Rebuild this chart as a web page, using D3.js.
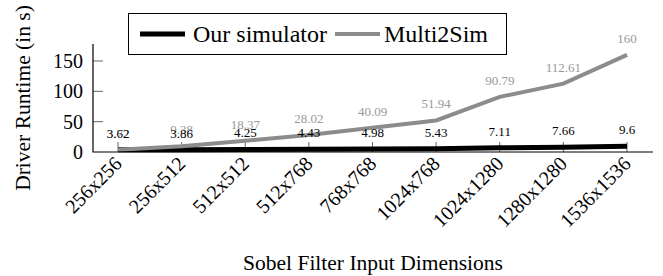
<!DOCTYPE html>
<html>
<head>
<meta charset="utf-8">
<script src="https://cdn.jsdelivr.net/npm/d3@7"></script>
<style>
  body { margin: 0; background: #fff; }
</style>
</head>
<body>
<script>
const categories = ['256x256', '256x512', '512x512', '512x768', '768x768',
  '1024x768', '1024x1280', '1280x1280', '1536x1536'];
const ourSim = [3.62, 3.86, 4.25, 4.43, 4.98, 5.43, 7.11, 7.66, 9.6];
const multi2Sim = [3.72, 9.38, 18.37, 28.02, 40.09, 51.94, 90.79, 112.61, 160];
const yTicks = [0, 50, 100, 150];

const FONT = "'Liberation Serif', 'DejaVu Serif', serif";

function main() {
  const width = 663;
  const height = 276;
  const left = 93, right = 653, top = 44, bottom = 152;

  const svg = d3.select('body').append('svg')
    .attr('width', width)
    .attr('height', height)
    .attr('font-family', FONT)
    .style('font-family', FONT);

  const x = d3.scalePoint()
    .domain(categories)
    .range([left + 25, right - 26]);

  const y = d3.scaleLinear()
    .domain([0, 178])
    .range([bottom, top]);

  // ticks (inward)
  svg.append('g')
    .selectAll('line')
    .data(categories)
    .enter()
    .append('line')
    .attr('x1', d => x(d)).attr('x2', d => x(d))
    .attr('y1', bottom).attr('y2', bottom - 10)
    .attr('stroke', '#666')
    .attr('stroke-width', 1);

  svg.append('g')
    .selectAll('line')
    .data(yTicks.filter(d => d > 0))
    .enter()
    .append('line')
    .attr('x1', left).attr('x2', left + 10)
    .attr('y1', d => y(d)).attr('y2', d => y(d))
    .attr('stroke', '#666')
    .attr('stroke-width', 1);

  const line = d3.line()
    .x((d, i) => x(categories[i]))
    .y(d => y(d));

  svg.append('path')
    .attr('d', line(ourSim))
    .attr('fill', 'none')
    .attr('stroke', '#000')
    .attr('stroke-width', 5);

  svg.append('path')
    .attr('d', line(multi2Sim))
    .attr('fill', 'none')
    .attr('stroke', '#8c8c8c')
    .attr('stroke-width', 4);

  // axis lines
  svg.append('path')
    .attr('d', `M${left},${top}V${bottom}H${right}`)
    .attr('fill', 'none')
    .attr('stroke', '#000')
    .attr('stroke-width', 1.2);

  // value labels
  svg.append('g')
    .selectAll('text')
    .data(multi2Sim)
    .enter()
    .append('text')
    .attr('x', (d, i) => x(categories[i]))
    .attr('y', d => y(d) - 12)
    .attr('text-anchor', 'middle')
    .attr('font-size', 13)
    .attr('fill', '#999')
    .text(d => d);

  svg.append('g')
    .selectAll('text')
    .data(ourSim)
    .enter()
    .append('text')
    .attr('x', (d, i) => x(categories[i]))
    .attr('y', d => y(d) - 12)
    .attr('text-anchor', 'middle')
    .attr('font-size', 13)
    .attr('fill', '#000')
    .text(d => d);

  // tick labels
  svg.append('g')
    .selectAll('text')
    .data(yTicks)
    .enter()
    .append('text')
    .attr('x', left - 10)
    .attr('y', d => y(d))
    .attr('dy', '0.35em')
    .attr('text-anchor', 'end')
    .attr('font-size', 20)
    .text(d => d);

  svg.append('g')
    .selectAll('text')
    .data(categories)
    .enter()
    .append('text')
    .attr('transform', d => `translate(${x(d)},${bottom + 8}) rotate(-45)`)
    .attr('dy', '0.35em')
    .attr('text-anchor', 'end')
    .attr('font-size', 20)
    .text(d => d);

  // axis titles
  svg.append('text')
    .attr('x', (left + right) / 2)
    .attr('y', 270)
    .attr('text-anchor', 'middle')
    .attr('font-size', 21.5)
    .text('Sobel Filter Input Dimensions');

  svg.append('text')
    .attr('transform', `translate(30,${(top + bottom) / 2}) rotate(-90)`)
    .attr('text-anchor', 'middle')
    .attr('font-size', 21.5)
    .text('Driver Runtime (in s)');

  // legend
  const lg = svg.append('g');
  lg.append('rect')
    .attr('x', 128.5).attr('y', 13.5)
    .attr('width', 378).attr('height', 41)
    .attr('fill', '#fff')
    .attr('stroke', '#000')
    .attr('stroke-width', 1);
  const items = [
    { name: 'Our simulator', color: '#000', w: 5, x0: 140, tx: 193 },
    { name: 'Multi2Sim', color: '#8c8c8c', w: 4, x0: 335, tx: 384 },
  ];
  items.forEach(it => {
    lg.append('line')
      .attr('x1', it.x0).attr('x2', it.x0 + 45)
      .attr('y1', 34).attr('y2', 34)
      .attr('stroke', it.color)
      .attr('stroke-width', it.w);
    lg.append('text')
      .attr('x', it.tx).attr('y', 34)
      .attr('dy', '0.35em')
      .attr('font-size', 24)
      .text(it.name);
  });
}

main();
</script>
</body>
</html>
